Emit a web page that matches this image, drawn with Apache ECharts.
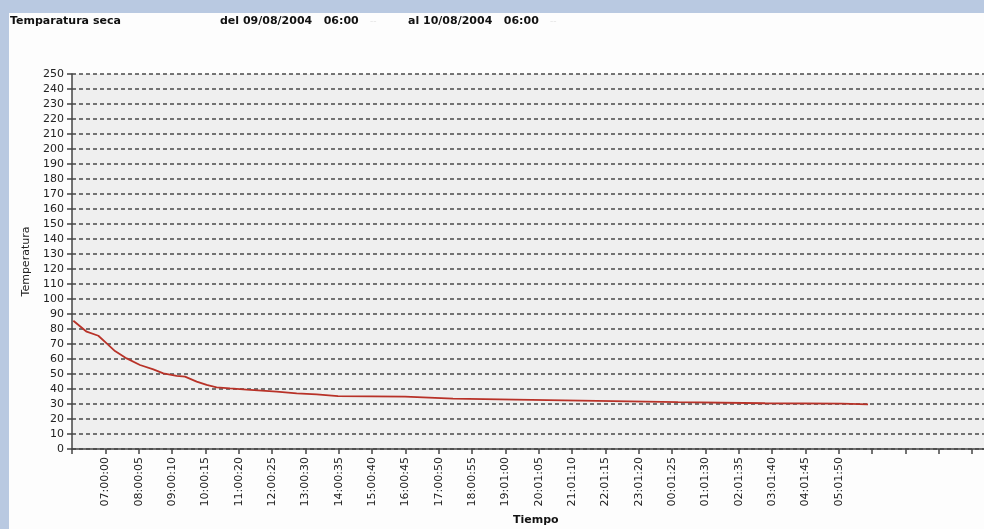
<!DOCTYPE html>
<html>
<head>
<meta charset="utf-8">
<script src="https://cdn.jsdelivr.net/npm/echarts@6/dist/echarts.min.js"></script>
<style>
html,body{margin:0;padding:0;background:#b9c9e1;}
#c{width:984px;height:529px;}
</style>
</head>
<body>
<div id="c"></div>
<script>
// hours elapsed since 09/08/2004 06:00
const hoursFromStart = [0.04, 0.09, 0.44, 0.79, 1.04, 1.29, 1.64, 2.04, 2.44, 2.74, 3.14, 3.39, 3.74, 4.04, 4.34, 4.74, 5.24, 6.14, 6.74, 7.34, 7.98, 9.99, 10.05, 11.43, 11.46, 13.29, 13.32, 15.75, 15.78, 18.18, 18.21, 20.79, 23.10, 23.13, 23.88];
const temperatura = [85.5, 86.7, 78.2, 75.5, 70.4, 65.3, 60.4, 56.0, 53.1, 50.4, 48.7, 48.2, 44.9, 42.7, 41.1, 40.4, 39.6, 38.2, 37.1, 36.4, 35.3, 34.9, 34.0, 33.6, 33.2, 32.9, 32.3, 32.1, 31.5, 31.2, 30.8, 30.5, 30.3, 29.6, 29.8];
const tickLabels = ['', '07:00:00', '08:00:05', '09:00:10', '10:00:15', '11:00:20', '12:00:25', '13:00:30', '14:00:35', '15:00:40', '16:00:45', '17:00:50', '18:00:55', '19:01:00', '20:01:05', '21:01:10', '22:01:15', '23:01:20', '00:01:25', '01:01:30', '02:01:35', '03:01:40', '04:01:45', '05:01:50', '', '', '', ''];

const FONT = 'DejaVu Sans';
const chart = echarts.init(document.getElementById('c'));
chart.setOption({
  backgroundColor: '#b9c9e1',
  animation: false,
  graphic: [{
    type: 'rect', left: 9, top: 13, z: -10,
    shape: {width: 975, height: 516},
    style: {fill: '#fdfdfd'}
  }],
  title: [
    {text: 'Temparatura seca', left: 10, top: 16, padding: 0, textStyle: {fontFamily: FONT, fontSize: 11, fontWeight: 'bold', color: '#111'}},
    {text: 'del 09/08/2004   06:00', left: 220, top: 16, padding: 0, textStyle: {fontFamily: FONT, fontSize: 11, fontWeight: 'bold', color: '#111'}},
    {text: '--', left: 370, top: 17, padding: 0, textStyle: {fontFamily: FONT, fontSize: 9, fontWeight: 'normal', color: '#e4e4e4'}},
    {text: 'al 10/08/2004   06:00', left: 408, top: 16, padding: 0, textStyle: {fontFamily: FONT, fontSize: 11, fontWeight: 'bold', color: '#111'}},
    {text: '--', left: 550, top: 17, padding: 0, textStyle: {fontFamily: FONT, fontSize: 9, fontWeight: 'normal', color: '#e4e4e4'}},
    {text: 'Tiempo', left: 513, top: 515, padding: 0, textStyle: {fontFamily: FONT, fontSize: 11, fontWeight: 'bold', color: '#111'}}
  ],
  grid: {left: 72, right: 0, top: 74, bottom: 80, show: true, backgroundColor: '#efefef', borderWidth: 0},
  xAxis: {
    type: 'value', min: 0, max: 27.36, interval: 1,
    axisLine: {show: true, lineStyle: {color: '#444', width: 1.5}},
    axisTick: {show: true, length: 5, lineStyle: {color: '#444', width: 1.5}},
    splitLine: {show: false},
    axisLabel: {
      rotate: 90, margin: 8, fontFamily: FONT, fontSize: 11, color: '#222',
      showMaxLabel: false,
      formatter: v => (Number.isInteger(v) && tickLabels[v]) ? tickLabels[v] : ''
    }
  },
  yAxis: {
    type: 'value', min: 0, max: 250, interval: 10,
    name: 'Temperatura', nameLocation: 'middle', nameGap: 40, nameRotate: 90,
    nameTextStyle: {fontFamily: FONT, fontSize: 11, color: '#222'},
    axisLine: {show: true, lineStyle: {color: '#444', width: 1.5}},
    axisTick: {show: true, length: 5, lineStyle: {color: '#444', width: 1.5}},
    axisLabel: {fontFamily: FONT, fontSize: 11, color: '#222', margin: 8},
    splitLine: {show: true, lineStyle: {color: '#4a4a4a', width: 1.6, type: [4, 3]}}
  },
  series: [{
    type: 'line',
    data: hoursFromStart.map((h, i) => [h, temperatura[i]]),
    showSymbol: false,
    lineStyle: {color: '#b83228', width: 1.8},
    itemStyle: {color: '#b83228'}
  }]
});
</script>
</body>
</html>
